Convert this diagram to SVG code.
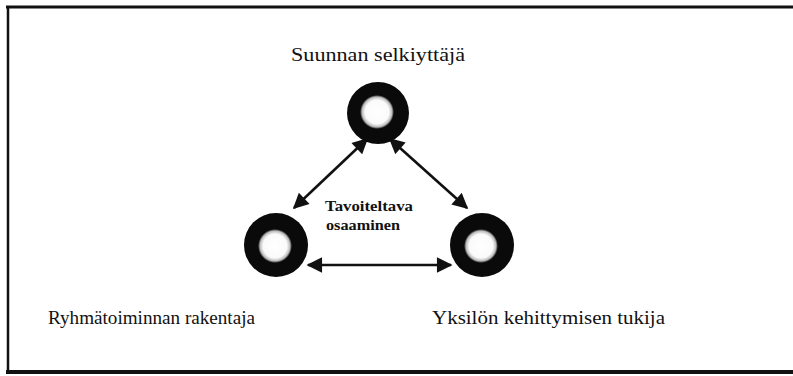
<svg xmlns="http://www.w3.org/2000/svg" width="793" height="376" viewBox="0 0 793 376">
<style>
.lbl{font-family:"Liberation Serif","Times New Roman",serif;font-size:19px;fill:#111}
.mid{font-family:"Liberation Serif","Times New Roman",serif;font-size:15px;font-weight:bold;fill:#111}
.ring{fill:#0a0a0a}
.core{fill:url(#blob)}
.con{stroke:#111;stroke-width:2.6;fill:none;marker-start:url(#ah);marker-end:url(#ah)}
</style>
<defs>
<radialGradient id="blob">
<stop offset="0" stop-color="#fff"/>
<stop offset="0.7" stop-color="#fafafa"/>
<stop offset="0.88" stop-color="#bbb"/>
<stop offset="1" stop-color="#0a0a0a"/>
</radialGradient>
<marker id="ah" viewBox="0 0 10 10" refX="9" refY="5" markerWidth="6.5" markerHeight="6" orient="auto-start-reverse" markerUnits="strokeWidth">
<path d="M0,0 L10,5 L0,10 z" fill="#111"/>
</marker>
</defs>
<g id="frame" fill="none" stroke="#111">
<line x1="6" y1="7" x2="793" y2="7" stroke-width="3"/>
<line x1="8" y1="6" x2="8" y2="373" stroke-width="2.5"/>
<line x1="6" y1="372" x2="793" y2="372" stroke-width="4"/>
</g>
<g id="connectors">
<line class="con" x1="367" y1="139" x2="294" y2="208"/>
<line class="con" x1="390" y1="139" x2="467" y2="208"/>
<line class="con" x1="308" y1="265" x2="451" y2="265"/>
</g>
<g id="node-top">
<circle class="ring" cx="378" cy="113" r="31"/>
<circle class="core" cx="377" cy="112" r="17"/>
<text class="lbl" x="291" y="61" textLength="174" lengthAdjust="spacingAndGlyphs">Suunnan selkiyttäjä</text>
</g>
<g id="node-left">
<circle class="ring" cx="276" cy="245" r="32"/>
<circle class="core" cx="275" cy="246" r="17"/>
<text class="lbl" x="48" y="324" textLength="207" lengthAdjust="spacingAndGlyphs">Ryhmätoiminnan rakentaja</text>
</g>
<g id="node-right">
<circle class="ring" cx="482" cy="245" r="32"/>
<circle class="core" cx="481" cy="246" r="17"/>
<text class="lbl" x="432" y="324" textLength="233" lengthAdjust="spacingAndGlyphs">Yksilön kehittymisen tukija</text>
</g>
<g id="center-label">
<text class="mid" x="325" y="211" textLength="88" lengthAdjust="spacingAndGlyphs">Tavoiteltava</text>
<text class="mid" x="326" y="230" textLength="74" lengthAdjust="spacingAndGlyphs">osaaminen</text>
</g>
</svg>
